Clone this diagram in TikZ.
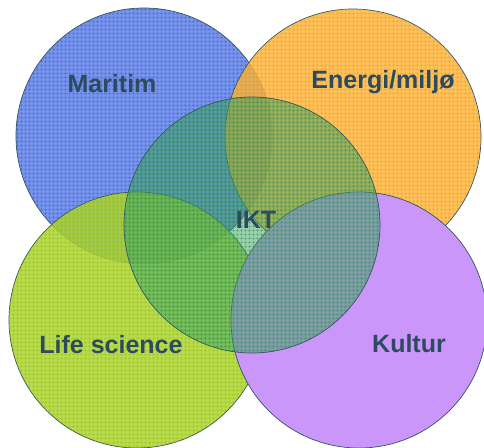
\documentclass[tikz,border=0pt]{standalone}
\usepackage{fontspec}
\setmainfont{Liberation Sans}
\usetikzlibrary{patterns}
\pgfdeclarepatternformonly{mygrid}{\pgfpointorigin}{\pgfqpoint{4pt}{4pt}}{\pgfqpoint{4pt}{4pt}}{%
  \pgfsetlinewidth{0.5pt}%
  \pgfpathmoveto{\pgfqpoint{0pt}{2pt}}\pgfpathlineto{\pgfqpoint{4pt}{2pt}}%
  \pgfpathmoveto{\pgfqpoint{2pt}{0pt}}\pgfpathlineto{\pgfqpoint{2pt}{4pt}}%
  \pgfusepath{stroke}}
\definecolor{blueF}{RGB}{118,148,238}
\definecolor{blueL}{RGB}{45,80,215}
\definecolor{orangeF}{RGB}{255,178,50}
\definecolor{orangeL}{RGB}{250,150,10}
\definecolor{greenF}{RGB}{172,212,50}
\definecolor{greenL}{RGB}{145,190,10}
\definecolor{purpleF}{RGB}{202,150,250}
\definecolor{iktF}{RGB}{60,160,90}
\definecolor{iktL}{RGB}{40,140,80}
\definecolor{edge}{RGB}{55,85,95}
\definecolor{txt}{RGB}{45,75,95}
\tikzset{
  circ/.style={circle, minimum size=256pt, inner sep=0pt, draw=edge, line width=0.7pt},
  pat/.style={circle, minimum size=256pt, inner sep=0pt, draw=none, pattern=mygrid},
  lbl/.style={font=\bfseries\fontsize{25}{29}\selectfont, text=txt, inner sep=0pt}
}
\begin{document}
\begin{tikzpicture}[x=1pt,y=-1pt]
\useasboundingbox (0,0) rectangle (484,447);
% Maritim
\node[circ, fill=blueF] (mar) at (144,136) {};
\node[pat, pattern color=blueL, opacity=0.55] (marp) at (144,136) {};
% Energi
\node[circ, fill=orangeF, fill opacity=0.82] (ene) at (353,137) {};
\node[pat, pattern color=orangeL, opacity=0.6] (enep) at (353,137) {};
% Life science
\node[circ, fill=greenF, fill opacity=0.85] (life) at (137,320) {};
\node[pat, pattern color=greenL, opacity=0.6] (lifep) at (137,320) {};
% Kultur
\node[circ, fill=purpleF] (kul) at (359,320) {};
% IKT
\node[circ, fill=iktF, fill opacity=0.5] (ikt) at (252,225) {};
\node[pat, pattern color=iktL, opacity=0.6] (iktp) at (252,225) {};
% labels
\node[lbl] (tmar) at (112,84) {Maritim};
\node[lbl] (tene) at (383,82) {Energi/miljø};
\node[lbl] (tikt) at (256,220) {IKT};
\node[lbl] (tlife) at (111,345) {Life science};
\node[lbl] (tkul) at (409,344) {Kultur};
\end{tikzpicture}
\end{document}
